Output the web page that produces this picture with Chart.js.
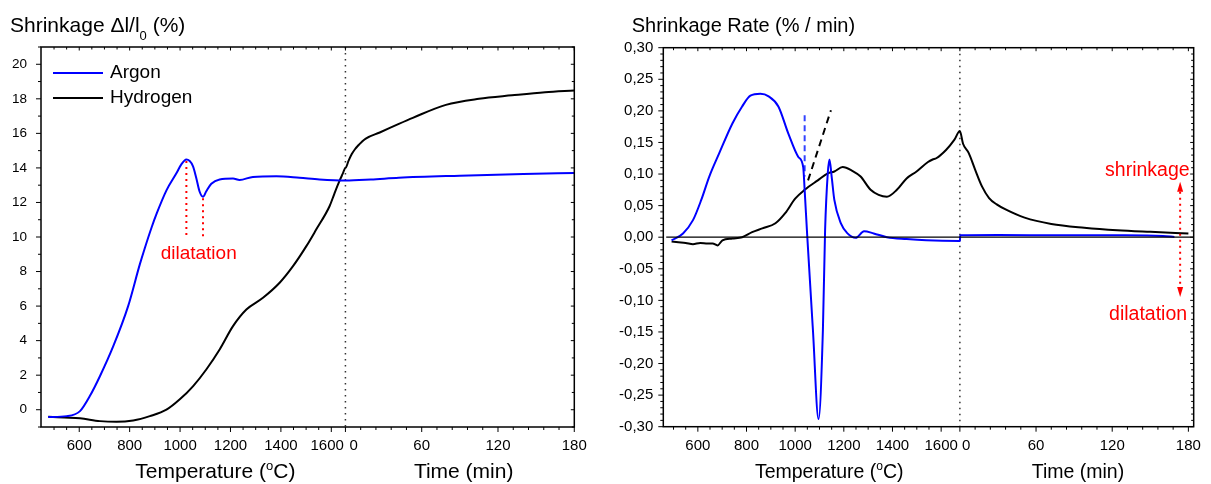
<!DOCTYPE html>
<html>
<head>
<meta charset="utf-8">
<script src="https://cdn.jsdelivr.net/npm/chart.js@4.4.1/dist/chart.umd.min.js"></script>
<style>
    html, body { margin: 0; padding: 0; background: #fff; }
    #wrap { position: relative; width: 1211px; height: 484px; }
    .box { position: absolute; top: 0; height: 484px; }
    #boxLeft { left: 0; width: 600px; }
    #boxRight { left: 600px; width: 611px; }
</style>
</head>
<body>
<div id="wrap">
    <div class="box" id="boxLeft"><canvas id="shrinkChart" width="600" height="484"></canvas></div>
    <div class="box" id="boxRight"><canvas id="rateChart" width="611" height="484"></canvas></div>
</div>
<script>
Chart.defaults.font.family = '"Liberation Sans", Arial, sans-serif';
Chart.defaults.color = '#000';

// ── DATA: shrinkage (%) ──
const argonTemp = [477, 550, 603, 642, 682, 735, 794, 840, 860, 887, 907, 946, 986, 1005, 1025, 1051, 1064, 1077, 1091, 1104, 1124, 1157, 1210, 1236, 1289, 1382, 1474, 1553, 1656];
const argonShrink = [-0.42, -0.37, -0.08, 0.79, 1.94, 3.68, 6.0, 8.4, 9.35, 10.55, 11.35, 12.7, 13.7, 14.2, 14.48, 14.1, 13.43, 12.65, 12.33, 12.65, 13.08, 13.33, 13.38, 13.3, 13.48, 13.52, 13.43, 13.33, 13.27];
const argonTime = [0, 20, 42, 90, 140, 180];
const argonShrinkHold = [13.27, 13.33, 13.43, 13.55, 13.65, 13.7];

const hydrogenTemp = [477, 540, 603, 682, 748, 814, 880, 946, 999, 1052, 1104, 1157, 1210, 1263, 1329, 1395, 1448, 1501, 1540, 1593, 1612, 1632, 1645, 1656];
const hydrogenShrink = [-0.4, -0.45, -0.5, -0.66, -0.7, -0.62, -0.37, 0.0, 0.6, 1.37, 2.33, 3.49, 4.84, 5.8, 6.48, 7.35, 8.31, 9.47, 10.43, 11.78, 12.5, 13.23, 13.65, 14.0];
const hydrogenTime = [0, 2.5, 5, 7.5, 10, 13, 16, 27, 42, 53, 79, 105, 131, 157, 180];
const hydrogenShrinkHold = [14.0, 14.42, 14.8, 15.08, 15.3, 15.52, 15.7, 16.05, 16.55, 16.9, 17.65, 18.0, 18.2, 18.38, 18.48];

const dilatTemps = [1025, 1091];
const dilatTops = [14.4, 12.25];
const dilatFoot = 10;

// ── DATA: shrinkage rate (% / min) ──
const argonRateTemp = [492, 539, 580, 614, 647, 688, 742, 782, 816, 857, 891, 931, 972, 1013, 1033, 1039, 1049, 1073, 1096, 1114, 1123, 1134, 1141, 1150, 1161, 1188, 1215, 1249, 1283, 1323, 1377, 1458, 1539, 1677];
const argonRate = [-0.005, 0.006, 0.027, 0.059, 0.096, 0.133, 0.18, 0.207, 0.224, 0.227, 0.223, 0.207, 0.164, 0.127, 0.111, 0.075, 0.006, -0.147, -0.288, -0.147, 0.011, 0.101, 0.123, 0.096, 0.059, 0.022, 0.006, -0.001, 0.0095, 0.006, 0.0, -0.003, -0.005, -0.006];
const argonRateTime = [0.3, 30, 80, 130, 160, 169];
const argonRateHold = [0.003, 0.0035, 0.003, 0.003, 0.002, 0.0005];

const hydrogenRateTemp = [492, 520, 550, 580, 610, 640, 661, 681, 701, 742, 782, 823, 865, 919, 959, 1000, 1039, 1093, 1134, 1161, 1195, 1235, 1269, 1310, 1343, 1377, 1418, 1458, 1499, 1546, 1565, 1580, 1620, 1654, 1677];
const hydrogenRate = [-0.007, -0.008, -0.009, -0.011, -0.009, -0.01, -0.01, -0.013, -0.005, -0.002, 0.0, 0.008, 0.014, 0.022, 0.038, 0.061, 0.075, 0.09, 0.101, 0.104, 0.111, 0.105, 0.096, 0.075, 0.067, 0.064, 0.075, 0.093, 0.104, 0.119, 0.123, 0.125, 0.138, 0.154, 0.168];
const hydrogenRateTime = [0, 2.5, 7, 12, 17.5, 23, 29, 36, 51, 72, 98, 124, 150, 180];
const hydrogenRateHold = [0.168, 0.148, 0.133, 0.107, 0.08, 0.062, 0.052, 0.044, 0.031, 0.021, 0.015, 0.011, 0.0085, 0.006];

const argonGuideTemp = [1039, 1039];
const argonGuideRate = [0.193, 0.096];
const hydrogenGuideTemp = [1053, 1147];
const hydrogenGuideRate = [0.09, 0.201];

// ── ticks ──
const shrinkTicks = [0, 2, 4, 6, 8, 10, 12, 14, 16, 18, 20];
const shrinkMinor = [-1, 1, 3, 5, 7, 9, 11, 13, 15, 17, 19, 21];
const rateTicks = [-0.30, -0.25, -0.20, -0.15, -0.10, -0.05, 0, 0.05, 0.10, 0.15, 0.20, 0.25, 0.30];
const tempTicks = [600, 800, 1000, 1200, 1400, 1600];
const tempMinor = [500, 550, 650, 700, 750, 850, 900, 950, 1050, 1100, 1150, 1250, 1300, 1350, 1450, 1500, 1550];
const timeTicks = [0, 60, 120, 180];
const timeMinor = [12, 24, 36, 48, 72, 84, 96, 108, 132, 144, 156, 168];

// x axis = temperature ramp, then holding time glued on at the end
// (pads: spaces that push the crowded "1600" / "0" labels apart)
const leftJoin = { end: 1656, perMin: 5.044, min: 448.3, max: 2564, padT: '  ', padZero: '    ' };
const rightJoin = { end: 1677, perMin: 5.218, min: 458, max: 2638, padT: '', padZero: '   ' };

const atTime = (j, t) => j.end + t * j.perMin;

function joinSeries(j, temps, vals, times, holdVals) {
    const pts = temps.map((t, i) => ({ x: t, y: vals[i] }));
    times.forEach((t, i) => pts.push({ x: atTime(j, t), y: holdVals[i] }));
    return pts;
}
function pairs(xs, ys) { return xs.map((x, i) => ({ x: x, y: ys[i] })); }

function xLabel(j, v) {
    if (v === 1600) return '1600' + j.padT;
    if (v < j.end - 1) return String(v);
    const t = Math.round((v - j.end) / j.perMin);
    return t === 0 ? j.padZero + '0' : String(t);
}

function font(size) { return size + 'px "Liberation Sans", Arial, sans-serif'; }

// title with sub/superscript bits: parts = [[text, size, rise], ...]
function richText(ctx, parts, x, base, align) {
    let w = 0;
    parts.forEach(p => { ctx.font = font(p[1]); w += ctx.measureText(p[0]).width; });
    let cx = align === 'center' ? x - w / 2 : x;
    ctx.textAlign = 'left';
    ctx.textBaseline = 'alphabetic';
    parts.forEach(p => {
        ctx.font = font(p[1]);
        ctx.fillText(p[0], cx, base - p[2]);
        cx += ctx.measureText(p[0]).width;
    });
}

function framePlugin(j, yMajor, yMinor) {
    return {
        id: 'frame',
        beforeDatasetsDraw(chart) {
            const { ctx, chartArea: a, scales: { x } } = chart;
            const bx = x.getPixelForValue(j.end);
            ctx.save();
            ctx.strokeStyle = '#333';
            ctx.lineWidth = 1.5;
            ctx.setLineDash([1.5, 4.5]);
            ctx.beginPath();
            ctx.moveTo(bx, a.top);
            ctx.lineTo(bx, a.bottom);
            ctx.stroke();
            ctx.restore();
        },
        afterDraw(chart) {
            const { ctx, chartArea: a, scales: { x, y } } = chart;
            ctx.save();
            ctx.strokeStyle = '#000';
            ctx.lineWidth = 1.5;
            ctx.strokeRect(a.left, a.top, a.right - a.left, a.bottom - a.top);
            ctx.lineWidth = 1;
            const tick = (px, py, dx, dy) => {
                ctx.beginPath(); ctx.moveTo(px, py); ctx.lineTo(px + dx, py + dy); ctx.stroke();
            };
            const xMaj = tempTicks.concat(timeTicks.map(t => atTime(j, t)));
            const xMin = tempMinor.concat(timeMinor.map(t => atTime(j, t)));
            xMaj.forEach(v => { const p = x.getPixelForValue(v); tick(p, a.bottom, 0, 5); tick(p, a.top, 0, 3.5); });
            xMin.forEach(v => { const p = x.getPixelForValue(v); tick(p, a.bottom, 0, 3); tick(p, a.top, 0, 2.5); });
            yMajor.forEach(v => { const p = y.getPixelForValue(v); tick(a.left, p, -5, 0); tick(a.right, p, -3.5, 0); });
            yMinor.forEach(v => { const p = y.getPixelForValue(v); tick(a.left, p, -3, 0); tick(a.right, p, -2.5, 0); });
            ctx.restore();
        }
    };
}

function axisTitles(chart, j, tSize) {
    const { ctx, scales: { x } } = chart;
    ctx.save();
    ctx.fillStyle = '#000';
    richText(ctx, [['Temperature (', tSize, 0], ['o', tSize * 0.62, 8], ['C)', tSize, 0]], x.getPixelForValue(1140), 478, 'center');
    richText(ctx, [['Time (min)', tSize, 0]], x.getPixelForValue(atTime(j, 93)), 478, 'center');
    ctx.restore();
}

// ── LEFT: shrinkage ──
const shrinkNotes = {
    id: 'shrinkNotes',
    afterDraw(chart) {
        const { ctx, chartArea: a, scales: { x, y } } = chart;
        ctx.save();
        ctx.fillStyle = '#000';
        richText(ctx, [['Shrinkage \u0394l/l', 21, 0], ['0', 13, -8], [' (%)', 21, 0]], 10, 32, 'left');
        axisTitles(chart, leftJoin, 21);

        // legend
        const ds = chart.data.datasets;
        [0, 1].forEach(i => {
            const ly = a.top + 26 + i * 25;
            ctx.strokeStyle = ds[i].borderColor;
            ctx.lineWidth = 2;
            ctx.beginPath(); ctx.moveTo(a.left + 12, ly); ctx.lineTo(a.left + 62, ly); ctx.stroke();
            ctx.font = font(19);
            ctx.textAlign = 'left'; ctx.textBaseline = 'middle';
            ctx.fillText(ds[i].label, a.left + 69, ly);
        });

        // dilatation markers
        ctx.strokeStyle = '#ff0000';
        ctx.lineWidth = 2;
        ctx.setLineDash([2, 4]);
        dilatTemps.forEach((t, i) => {
            const px = x.getPixelForValue(t);
            ctx.beginPath(); ctx.moveTo(px, y.getPixelForValue(dilatTops[i])); ctx.lineTo(px, y.getPixelForValue(dilatFoot)); ctx.stroke();
        });
        ctx.setLineDash([]);
        ctx.fillStyle = '#ff0000';
        ctx.font = font(19);
        ctx.textAlign = 'center'; ctx.textBaseline = 'alphabetic';
        const mid = (x.getPixelForValue(dilatTemps[0]) + x.getPixelForValue(dilatTemps[1])) / 2;
        ctx.fillText('dilatation', mid + 4, y.getPixelForValue(dilatFoot) + 22);
        ctx.restore();
    }
};

new Chart(document.getElementById('shrinkChart'), {
    type: 'line',
    data: {
        datasets: [
            { label: 'Argon', data: joinSeries(leftJoin, argonTemp, argonShrink, argonTime, argonShrinkHold), borderColor: '#0000ff', borderWidth: 2 },
            { label: 'Hydrogen', data: joinSeries(leftJoin, hydrogenTemp, hydrogenShrink, hydrogenTime, hydrogenShrinkHold), borderColor: '#000000', borderWidth: 2 }
        ]
    },
    options: {
        responsive: false, animation: false,
        layout: { padding: { left: 0, right: 25.7, top: 47, bottom: 0 } },
        elements: { point: { radius: 0 }, line: { cubicInterpolationMode: 'monotone', fill: false } },
        plugins: { legend: { display: false }, tooltip: { enabled: false } },
        scales: {
            x: {
                type: 'linear', min: leftJoin.min, max: leftJoin.max,
                grid: { display: false, drawTicks: false }, border: { display: false },
                afterBuildTicks: s => { s.ticks = tempTicks.concat(timeTicks.map(t => atTime(leftJoin, t))).map(v => ({ value: v })); },
                afterFit: s => { s.height = 57; },
                ticks: { autoSkip: false, maxRotation: 0, padding: 10, font: { size: 15 }, color: '#000', callback: v => xLabel(leftJoin, v) }
            },
            y: {
                min: -1, max: 21,
                grid: { display: false, drawTicks: false }, border: { display: false },
                afterBuildTicks: s => { s.ticks = shrinkTicks.map(v => ({ value: v })); },
                afterFit: s => { s.width = 41; },
                ticks: { padding: 14, font: { size: 13.5 }, color: '#000' }
            }
        }
    },
    plugins: [framePlugin(leftJoin, shrinkTicks, shrinkMinor), shrinkNotes]
});

// ── RIGHT: shrinkage rate ──
const rateMinor = [];
for (let k = -30; k <= 30; k++) { if (k % 5 !== 0) rateMinor.push(k / 100); }

const rateNotes = {
    id: 'rateNotes',
    afterDraw(chart) {
        const { ctx, chartArea: a, scales: { x, y } } = chart;
        ctx.save();
        ctx.fillStyle = '#000';
        richText(ctx, [['Shrinkage Rate (% / min)', 20, 0]], 31.7, 31.7, 'left');
        axisTitles(chart, rightJoin, 19.5);

        // shrinkage / dilatation arrow
        const ax = x.getPixelForValue(atTime(rightJoin, 173.5));
        const yTop = y.getPixelForValue(0.0877), yBot = y.getPixelForValue(-0.0947);
        ctx.strokeStyle = '#ff0000'; ctx.fillStyle = '#ff0000';
        ctx.lineWidth = 2;
        ctx.setLineDash([2, 4]);
        ctx.beginPath(); ctx.moveTo(ax, yTop + 10); ctx.lineTo(ax, yBot - 10); ctx.stroke();
        ctx.setLineDash([]);
        ctx.beginPath(); ctx.moveTo(ax, yTop); ctx.lineTo(ax - 3, yTop + 10); ctx.lineTo(ax + 3, yTop + 10); ctx.closePath(); ctx.fill();
        ctx.beginPath(); ctx.moveTo(ax, yBot); ctx.lineTo(ax - 3, yBot - 10); ctx.lineTo(ax + 3, yBot - 10); ctx.closePath(); ctx.fill();
        ctx.font = font(19.5);
        ctx.textAlign = 'right'; ctx.textBaseline = 'alphabetic';
        ctx.fillText('shrinkage', ax + 9.5, yTop - 6);
        ctx.fillText('dilatation', ax + 7, yBot + 22.6);
        ctx.restore();
    }
};

new Chart(document.getElementById('rateChart'), {
    type: 'line',
    data: {
        datasets: [
            { label: 'zero', data: [{ x: 470, y: 0 }, { x: rightJoin.max, y: 0 }], borderColor: '#000000', borderWidth: 1.2, cubicInterpolationMode: 'default', tension: 0 },
            { label: 'Argon', data: joinSeries(rightJoin, argonRateTemp, argonRate, argonRateTime, argonRateHold), borderColor: '#0000ff', borderWidth: 2 },
            { label: 'Hydrogen', data: joinSeries(rightJoin, hydrogenRateTemp, hydrogenRate, hydrogenRateTime, hydrogenRateHold), borderColor: '#000000', borderWidth: 2 },
            { label: 'Argon guide', data: pairs(argonGuideTemp, argonGuideRate), borderColor: '#3344ff', borderWidth: 2, borderDash: [6, 4], cubicInterpolationMode: 'default', tension: 0 },
            { label: 'Hydrogen guide', data: pairs(hydrogenGuideTemp, hydrogenGuideRate), borderColor: '#000000', borderWidth: 2, borderDash: [7, 5], cubicInterpolationMode: 'default', tension: 0 }
        ]
    },
    options: {
        responsive: false, animation: false,
        layout: { padding: { left: 0, right: 10, top: 47.7, bottom: 0 } },
        elements: { point: { radius: 0 }, line: { cubicInterpolationMode: 'monotone', fill: false } },
        plugins: { legend: { display: false }, tooltip: { enabled: false } },
        scales: {
            x: {
                type: 'linear', min: rightJoin.min, max: rightJoin.max,
                grid: { display: false, drawTicks: false }, border: { display: false },
                afterBuildTicks: s => { s.ticks = tempTicks.concat(timeTicks.map(t => atTime(rightJoin, t))).map(v => ({ value: v })); },
                afterFit: s => { s.height = 57.3; },
                ticks: { autoSkip: false, maxRotation: 0, padding: 10, font: { size: 15 }, color: '#000', callback: v => xLabel(rightJoin, v) }
            },
            y: {
                min: -0.30, max: 0.30,
                grid: { display: false, drawTicks: false }, border: { display: false },
                afterBuildTicks: s => { s.ticks = rateTicks.map(v => ({ value: v })); },
                afterFit: s => { s.width = 63.3; },
                ticks: {
                    padding: 10, font: { size: 15 }, color: '#000',
                    callback: v => (Math.abs(v) < 1e-9 ? 0 : v).toFixed(2).replace('.', ',')
                }
            }
        }
    },
    plugins: [framePlugin(rightJoin, rateTicks, rateMinor), rateNotes]
});
</script>
</body>
</html>
